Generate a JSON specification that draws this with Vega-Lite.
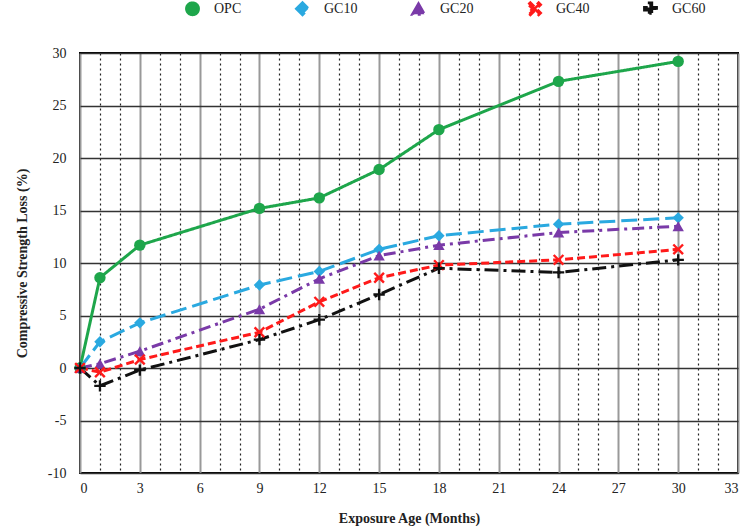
{
  "$schema": "https://vega.github.io/schema/vega-lite/v6.json",
  "autosize": "none",
  "width": 658,
  "height": 420,
  "padding": {"left": 80, "top": 53, "right": 11, "bottom": 58},
  "background": "white",
  "config": {
    "font": "Liberation Serif",
    "view": {"stroke": "black", "strokeWidth": 2},
    "axis": {"labelFont": "Liberation Serif", "titleFont": "Liberation Serif", "labelFontSize": 14, "titleFontSize": 14, "labelColor": "#222", "titleColor": "#222"}
  },
  "data": {"values": [
    {"age": 0, "s": "OPC", "v": 0}, {"age": 1, "s": "OPC", "v": 8.6}, {"age": 3, "s": "OPC", "v": 11.7}, {"age": 9, "s": "OPC", "v": 15.2}, {"age": 12, "s": "OPC", "v": 16.2}, {"age": 15, "s": "OPC", "v": 18.9}, {"age": 18, "s": "OPC", "v": 22.7}, {"age": 24, "s": "OPC", "v": 27.3}, {"age": 30, "s": "OPC", "v": 29.2},
    {"age": 0, "s": "GC10", "v": 0}, {"age": 1, "s": "GC10", "v": 2.5}, {"age": 3, "s": "GC10", "v": 4.3}, {"age": 9, "s": "GC10", "v": 7.9}, {"age": 12, "s": "GC10", "v": 9.2}, {"age": 15, "s": "GC10", "v": 11.3}, {"age": 18, "s": "GC10", "v": 12.6}, {"age": 24, "s": "GC10", "v": 13.7}, {"age": 30, "s": "GC10", "v": 14.3},
    {"age": 0, "s": "GC20", "v": 0}, {"age": 1, "s": "GC20", "v": 0.4}, {"age": 3, "s": "GC20", "v": 1.6}, {"age": 9, "s": "GC20", "v": 5.6}, {"age": 12, "s": "GC20", "v": 8.5}, {"age": 15, "s": "GC20", "v": 10.7}, {"age": 18, "s": "GC20", "v": 11.7}, {"age": 24, "s": "GC20", "v": 12.9}, {"age": 30, "s": "GC20", "v": 13.5},
    {"age": 0, "s": "GC40", "v": 0}, {"age": 1, "s": "GC40", "v": -0.4}, {"age": 3, "s": "GC40", "v": 0.8}, {"age": 9, "s": "GC40", "v": 3.4}, {"age": 12, "s": "GC40", "v": 6.3}, {"age": 15, "s": "GC40", "v": 8.6}, {"age": 18, "s": "GC40", "v": 9.8}, {"age": 24, "s": "GC40", "v": 10.3}, {"age": 30, "s": "GC40", "v": 11.3},
    {"age": 0, "s": "GC60", "v": 0}, {"age": 1, "s": "GC60", "v": -1.7}, {"age": 3, "s": "GC60", "v": -0.2}, {"age": 9, "s": "GC60", "v": 2.7}, {"age": 12, "s": "GC60", "v": 4.6}, {"age": 15, "s": "GC60", "v": 7.0}, {"age": 18, "s": "GC60", "v": 9.5}, {"age": 24, "s": "GC60", "v": 9.1}, {"age": 30, "s": "GC60", "v": 10.3}
  ]},
  "encoding": {
    "y": {"field": "v", "type": "quantitative", "scale": {"domain": [-10, 30], "nice": false},
      "axis": {"values": [-10, -5, 0, 5, 10, 15, 20, 25, 30], "labelExpr": "replace(datum.label, '−', '-')", "title": "Compressive Strength Loss (%)", "titleFontWeight": "bold", "titlePadding": 18, "grid": true, "gridColor": "#333", "gridWidth": 1.5, "ticks": false, "domain": false, "labelPadding": 14}},
    "color": {"field": "s", "type": "nominal", "title": null,
      "scale": {"domain": ["OPC", "GC10", "GC20", "GC40", "GC60"], "range": ["#1ea64b", "#2aa9e0", "#7a3aa8", "#ff1a1a", "#111111"]},
      "legend": {"orient": "none", "legendX": 105, "legendY": -52, "direction": "horizontal", "columns": 5, "labelFontSize": 14, "labelFont": "Liberation Serif", "symbolSize": 140, "symbolStrokeWidth": 3, "columnPadding": 48, "labelOffset": 14, "labelColor": "#222"}}
  },
  "layer": [
    {
      "mark": {"type": "line", "strokeWidth": 3},
      "encoding": {
        "x": {"field": "age", "type": "quantitative", "scale": {"domain": [0, 33], "nice": false},
          "axis": {"values": [1, 2, 4, 5, 7, 8, 10, 11, 13, 14, 16, 17, 19, 20, 22, 23, 25, 26, 28, 29, 31, 32], "labels": false, "ticks": false, "domain": false, "title": null, "grid": true, "gridColor": "#222", "gridDash": [2, 3], "gridWidth": 1.2, "orient": "bottom"}},
        "strokeDash": {"field": "s", "type": "nominal", "scale": {"domain": ["OPC", "GC10", "GC20", "GC40", "GC60"], "range": [[1, 0], [16, 6], [12, 5, 3, 5], [8, 4], [14, 5, 3, 5]]}, "legend": null}
      }
    },
    {
      "mark": {"type": "point", "filled": true, "size": 130, "opacity": 1},
      "encoding": {
        "x": {"field": "age", "type": "quantitative",
          "axis": {"values": [0, 3, 6, 9, 12, 15, 18, 21, 24, 27, 30, 33], "title": "Exposure Age (Months)", "titleFontWeight": "bold", "titlePadding": 16, "grid": true, "gridColor": "#999", "gridWidth": 2, "ticks": false, "domain": false, "labelPadding": 8, "orient": "bottom"}},
        "shape": {"field": "s", "type": "nominal", "title": null,
          "scale": {"domain": ["OPC", "GC10", "GC20", "GC40", "GC60"], "range": ["circle", "diamond", "triangle-up", "M-1,-0.7L-0.7,-1L0,-0.3L0.7,-1L1,-0.7L0.3,0L1,0.7L0.7,1L0,0.3L-0.7,1L-1,0.7L-0.3,0Z", "M-0.2,-1H0.2V-0.2H1V0.2H0.2V1H-0.2V0.2H-1V-0.2H-0.2Z"]}}
      }
    }
  ],
  "resolve": {"axis": {"x": "independent"}}
}
